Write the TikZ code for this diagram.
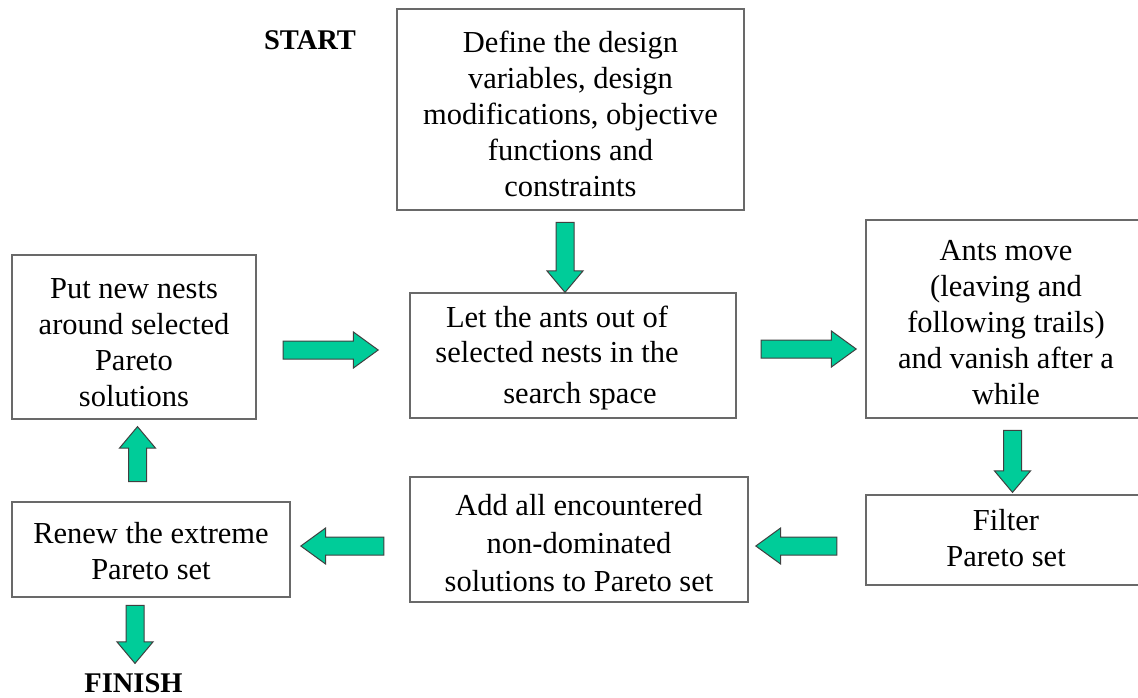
\documentclass[tikz,border=0pt]{standalone}
\usepackage{fontspec}
\setmainfont{Liberation Serif}
\usetikzlibrary{shapes.arrows}
\definecolor{arrowfill}{RGB}{0,204,153}
\definecolor{arrowedge}{RGB}{64,64,64}
\definecolor{boxedge}{RGB}{105,105,105}
\newcommand{\boxfont}{\fontsize{30.5}{36}\selectfont}
\newcommand{\labfont}{\fontsize{28.5}{32}\selectfont\bfseries}
\tikzset{
  stepbox/.style={draw=boxedge, line width=1.4pt, fill=white, inner sep=0pt},
  steptext/.style={align=center, font=\boxfont, inner sep=0pt},
  blockarrow/.style={single arrow, draw=arrowedge, fill=arrowfill, line width=1pt,
    inner xsep=0pt, inner ysep=8.5pt, single arrow head extend=9pt,
    single arrow tip angle=80, minimum width=0pt},
  sidearrow/.style={blockarrow, single arrow tip angle=72},
  endlabel/.style={font=\labfont, inner sep=0pt}
}
\begin{document}
\begin{tikzpicture}[x=1pt,y=-1pt]
\clip (0,0) rectangle (1138,697);
\fill[white] (0,0) rectangle (1138,697);

% process boxes
\node[stepbox, minimum width=347pt, minimum height=201pt] (define) at (570.5,109.5) {};
\node[stepbox, minimum width=244pt, minimum height=164pt] (nests) at (134,337) {};
\node[stepbox, minimum width=326pt, minimum height=125pt] (letout) at (573,355.5) {};
\node[stepbox, minimum width=284pt, minimum height=198pt] (antsmove) at (1008,319) {};
\node[stepbox, minimum width=284pt, minimum height=90pt] (filter) at (1008,540) {};
\node[stepbox, minimum width=338pt, minimum height=125pt] (addall) at (579,539.5) {};
\node[stepbox, minimum width=278pt, minimum height=95pt] (renew) at (151,549.5) {};

% box texts
\node[steptext] (defineText) at ([yshift=-4pt]define.center)
  {Define the design\\variables, design\\modifications, objective\\functions and\\constraints};
\node[steptext] (nestsText) at ([yshift=-6pt]nests.center)
  {Put new nests\\around selected\\Pareto\\solutions};
\node[steptext] (letoutText) at ([yshift=-2pt]letout.center)
  {\hspace*{-32pt}Let the ants out of\\\hspace*{-32pt}selected nests in the\\[4pt]\hspace*{14pt}search space};
\node[steptext] (antsmoveText) at ([xshift=-2pt,yshift=-4pt]antsmove.center)
  {Ants move\\(leaving and\\following trails)\\and vanish after a\\while};
\node[steptext] (filterText) at ([xshift=-2pt,yshift=2pt]filter.center)
  {Filter\\Pareto set};
\node[steptext, font=\fontsize{30.5}{38}\selectfont] (addallText) at ([yshift=-4pt]addall.center)
  {Add all encountered\\non-dominated\\solutions to Pareto set};
\node[steptext] (renewText) at ([yshift=-2pt]renew.center)
  {Renew the extreme\\Pareto set};

% start and finish labels
\node[endlabel] (start) at (310,40) {START};
\node[endlabel] (finish) at (133.5,683) {FINISH};

% block arrows between the steps
\node[blockarrow, minimum height=70pt, rotate=-90] (defToLet) at (565,252) {};
\node[sidearrow, minimum height=95pt] (nestsToLet) at (324.5,350) {};
\node[sidearrow, minimum height=95pt] (letToMove) at (802.5,349) {};
\node[blockarrow, minimum height=62pt, rotate=-90] (moveToFilter) at (1012.5,456) {};
\node[sidearrow, minimum height=81pt, rotate=180] (filterToAdd) at (802.5,546) {};
\node[sidearrow, minimum height=83pt, rotate=180] (addToRenew) at (348.5,546) {};
\node[blockarrow, minimum height=55pt, rotate=90] (renewToNests) at (137.5,459.5) {};
\node[blockarrow, minimum height=58pt, rotate=-90] (renewToFinish) at (135,629) {};
\end{tikzpicture}
\end{document}
